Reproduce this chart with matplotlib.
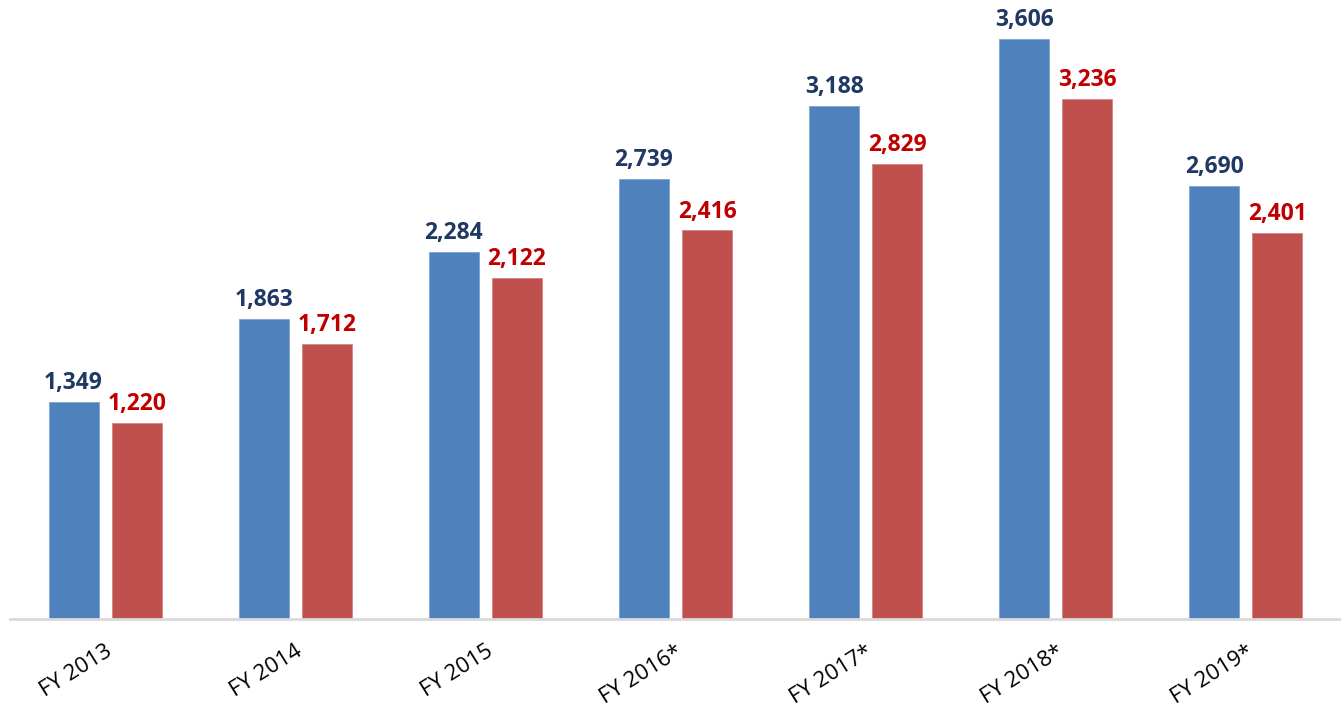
import matplotlib.pyplot as plt
import numpy as np

years = ["FY 2013", "FY 2014", "FY 2015", "FY 2016*", "FY 2017*", "FY 2018*", "FY 2019*"]
blue_vals = [1349, 1863, 2284, 2739, 3188, 3606, 2690]
red_vals = [1220, 1712, 2122, 2416, 2829, 3236, 2401]

plt.rcParams['font.family'] = ['Open Sans', 'DejaVu Sans']

fig = plt.figure(figsize=(13.41, 7.06), dpi=100)
ax = fig.add_axes([10 / 1341, 87 / 706, 1 - 10 / 1341, 619 / 706])

x = np.arange(len(years))
w = 0.263
off = 0.166
ax.bar(x - off, blue_vals, w, color="#4F81BD", edgecolor="#7FA3D0", linewidth=0.6)
ax.bar(x + off, red_vals, w, color="#C0504D", edgecolor="#D48582", linewidth=0.6)

for xi, v in zip(x, blue_vals):
    ax.annotate(f"{v:,}", (xi - off, v), xytext=(0, 5), textcoords="offset points",
                ha="center", va="bottom", fontsize=16.5, fontweight="bold", color="#1F3864")
for xi, v in zip(x, red_vals):
    ax.annotate(f"{v:,}", (xi + off, v), xytext=(0, 5), textcoords="offset points",
                ha="center", va="bottom", fontsize=16.5, fontweight="bold", color="#C00000")

ax.set_xlim(-0.5, len(years) - 0.5)
ax.set_ylim(0, 3849)
ax.set_yticks([])
ax.set_xticks(x)
ax.set_xticklabels(years, rotation=32, ha="right", rotation_mode="anchor", fontsize=16)
ax.tick_params(axis="x", length=0, pad=16)
for s in ["top", "right", "left"]:
    ax.spines[s].set_visible(False)
ax.spines["bottom"].set_color("#D9D9D9")
ax.spines["bottom"].set_linewidth(2)

fig.savefig("out.png", dpi=100)
